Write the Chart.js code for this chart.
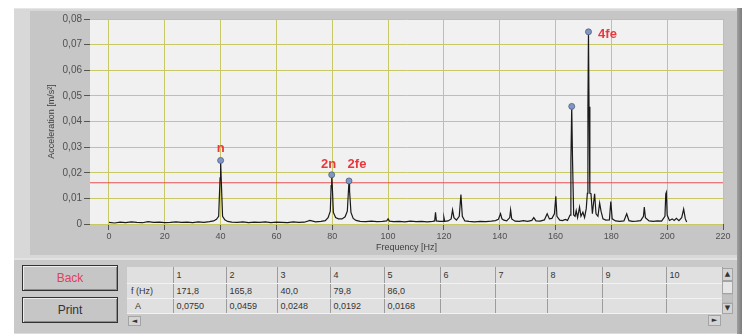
<!DOCTYPE html>
<html><head><meta charset="utf-8">
<script src="https://cdn.jsdelivr.net/npm/chart.js@4.4.1/dist/chart.umd.min.js"></script>
<style>
html,body{margin:0;padding:0;background:#fff;}
body{width:747px;height:336px;position:relative;overflow:hidden;font-family:'Liberation Sans',Arial,sans-serif;}
#gOuter{position:absolute;left:14px;top:8px;width:724px;height:250px;background:#d8d8d8;border-top:1px solid #e6e6e6;box-sizing:border-box;}
#gInner{position:absolute;left:30px;top:11px;width:707px;height:244px;background:#c6c6c6;}
#gEdge{position:absolute;left:737px;top:8px;width:5px;height:326px;background:linear-gradient(to right,#a0a0a0,#7c7c7c);}
#wrap{position:absolute;left:0;top:0;width:747px;height:258px;}
#bOuter{position:absolute;left:14px;top:258px;width:723px;height:76px;background:#c9c9c9;border-top:2px solid #e2e2e2;border-bottom:1px solid #dcdcdc;box-sizing:border-box;}
.btn{position:absolute;left:22px;width:96px;height:26px;box-sizing:border-box;border:1px solid #333;background:#c6c6c6;box-shadow:inset 1px 1px 0 #ececec, inset -1px -1px 0 #8c8c8c;font-size:12px;text-align:center;line-height:24px;color:#333;}
#back{top:265px;color:#e0405e;}
#print{top:297px;}
#tbl{position:absolute;left:127px;top:267px;border-collapse:collapse;table-layout:fixed;font-size:9px;color:#333;}
#tbl td{border-right:1px solid #9c9c9c;border-bottom:1px solid #f2f2f2;background:#e0e0e0;padding:0 0 0 3px;white-space:nowrap;overflow:hidden;box-sizing:border-box;}
#tbl tr.h td{height:16px;}
#tbl tr.r td{height:15px;}
.sb{position:absolute;box-sizing:border-box;background:#d4d4d4;border:1px solid #a4a4a4;font-family:'DejaVu Sans';font-size:7px;color:#333;text-align:center;}
</style></head>
<body>
<div id="gOuter"></div>
<div id="gInner"></div>
<div id="gEdge"></div>
<div id="wrap"><canvas id="c"></canvas></div>
<div id="bOuter"></div>
<div class="btn" id="back">Back</div>
<div class="btn" id="print">Print</div>
<table id="tbl"></table>
<div class="sb" style="left:722px;top:268px;width:11px;height:13px;line-height:11px;">▲</div>
<div class="sb" style="left:722px;top:281px;width:11px;height:13px;background:#e6e6e6;"></div>
<div class="sb" style="left:722px;top:294px;width:11px;height:9px;background:#c2c2c2;border-color:#b8b8b8;"></div>
<div class="sb" style="left:722px;top:303px;width:11px;height:11px;line-height:9px;">▼</div>
<div class="sb" style="left:128px;top:316px;width:13px;height:10px;line-height:8px;">◄</div>
<div class="sb" style="left:708px;top:315px;width:13px;height:11px;line-height:9px;">►</div>
<script>
// ---- data ----
const freq = [0,2,4,6,8,10,12,14,16,18,20,22,24,26,28,30,32,34,36,37.5,38.5,39.3,39.8,40.0,40.2,40.7,41.5,42.5,44,46,48,50,52,54,56,58,60,62,64,66,68,70,72,74,76,77.5,78.5,79.3,79.6,79.8,80.0,80.4,81.2,82.2,83.5,84.6,85.4,85.8,86.0,86.2,86.7,87.5,88.5,90,92,94,96,98,99.5,100,100.5,102,104,106,108,110,112,114,116,116.7,117,117.3,118.5,119.7,120,120.3,121.5,122.6,123.1,123.6,124.5,125.5,126.1,126.6,127.5,129,131,133,135,137,138.5,139.5,140.3,140.8,141.5,142.5,143.6,143.9,144.3,145.5,147,148.5,150,151.5,152.2,153,154.5,156,157,157.8,158.7,159.6,160.1,160.5,161.5,162.5,163.5,164.3,165.2,165.5,165.8,166.1,166.5,167.0,167.4,167.9,168.6,169.1,169.8,170.4,171.0,171.4,171.6,171.8,172.0,172.3,172.7,173.2,174.0,174.5,175.2,175.8,176.3,177.0,178,179.3,179.8,180.3,181.5,183,184.5,185.5,186.3,187.5,189,190.5,191.5,191.8,192.2,193.5,195,196.5,198,199.2,199.5,199.7,200.0,200.8,201.8,202.5,203.3,204.2,205.2,205.9,206.5,207];
const accel = [0.0006,0.0004,0.0007,0.0005,0.0008,0.0006,0.0005,0.0009,0.0006,0.0007,0.0005,0.0006,0.0008,0.0006,0.0007,0.0005,0.0008,0.0006,0.0009,0.0012,0.0018,0.0030,0.0180,0.0248,0.0180,0.0030,0.0016,0.0010,0.0007,0.0006,0.0008,0.0005,0.0007,0.0006,0.0008,0.0005,0.0007,0.0006,0.0005,0.0008,0.0006,0.0007,0.0014,0.0008,0.0010,0.0013,0.0025,0.0050,0.0150,0.0192,0.0150,0.0045,0.0025,0.0020,0.0020,0.0028,0.0050,0.0130,0.0168,0.0130,0.0045,0.0022,0.0014,0.0010,0.0009,0.0011,0.0009,0.0010,0.0012,0.0020,0.0011,0.0009,0.0010,0.0008,0.0011,0.0009,0.0010,0.0008,0.0010,0.0012,0.0046,0.0012,0.0010,0.0010,0.0026,0.0010,0.0012,0.0020,0.0055,0.0025,0.0015,0.0030,0.0115,0.0030,0.0012,0.0010,0.0008,0.0010,0.0009,0.0011,0.0013,0.0018,0.0040,0.0020,0.0015,0.0012,0.0025,0.0055,0.0020,0.0011,0.0010,0.0013,0.0010,0.0014,0.0025,0.0012,0.0011,0.0016,0.0040,0.0020,0.0022,0.0040,0.0108,0.0030,0.0015,0.0013,0.0018,0.0014,0.0035,0.0243,0.0459,0.0243,0.0035,0.0030,0.0052,0.0025,0.0066,0.0030,0.0046,0.0025,0.0060,0.0120,0.0458,0.0750,0.0458,0.0120,0.0118,0.0040,0.0118,0.0040,0.0030,0.0082,0.0050,0.0020,0.0015,0.0016,0.0088,0.0020,0.0012,0.0010,0.0012,0.0040,0.0013,0.0010,0.0011,0.0013,0.0030,0.0066,0.0025,0.0012,0.0010,0.0012,0.0011,0.0030,0.0118,0.0124,0.0035,0.0014,0.0020,0.0014,0.0022,0.0013,0.0025,0.0058,0.0020,0.0008];
const peakFreq = [171.8, 165.8, 40.0, 79.8, 86.0];
const peakAmp = [0.0750, 0.0459, 0.0248, 0.0192, 0.0168];
const peakLabels = ['4fe', '', 'n', '2n', '2fe'];
const threshold = 0.0161;
const xTicks = [0,20,40,60,80,100,120,140,160,180,200,220];
const yTicks = [0,0.01,0.02,0.03,0.04,0.05,0.06,0.07,0.08];
const yTickLabels = ['0','0,01','0,02','0,03','0,04','0,05','0,06','0,07','0,08'];
const colHeaders = ['1','2','3','4','5','6','7','8','9','10'];
const rowLabels = ['f (Hz)','A'];
const xRange = [-6.8, 220];
const yRange = [0, 0.08];

// label offsets (style) relative to the peak marker, in px
const labelOffsets = {'4fe':[19,3],'n':[0,-12],'2n':[-3,-10],'2fe':[8,-17]};

// ---- table ----
(function(){
  const widths=[46,53,51,53,54,56,55,52,55,64,56];
  const t=document.getElementById('tbl');
  let cg='<colgroup>'+widths.map(w=>'<col style="width:'+w+'px">').join('')+'</colgroup>';
  let h='<tr class="h"><td></td>'+colHeaders.map(c=>'<td>'+c+'</td>').join('')+'</tr>';
  const fr=colHeaders.map((c,i)=>i<peakFreq.length?peakFreq[i].toFixed(1).replace('.',','):'');
  const ar=colHeaders.map((c,i)=>i<peakAmp.length?peakAmp[i].toFixed(4).replace('.',','):'');
  let r1='<tr class="r"><td style="padding-left:4px">'+rowLabels[0]+'</td>'+fr.map(v=>'<td>'+v+'</td>').join('')+'</tr>';
  let r2='<tr class="r"><td style="padding-left:8px">'+rowLabels[1]+'</td>'+ar.map(v=>'<td>'+v+'</td>').join('')+'</tr>';
  t.style.width=widths.reduce((a,b)=>a+b,0)+'px';
  t.innerHTML=cg+h+r1+r2;
})();

// ---- chart ----
const FONT="'Liberation Sans', Arial, sans-serif";
const bgPlugin={id:'bg',beforeDraw(chart){const {ctx,chartArea:a}=chart;ctx.save();ctx.fillStyle='#f1f1f1';ctx.fillRect(a.left,a.top,a.right-a.left,a.bottom-a.top);ctx.restore();}};
const lblPlugin={id:'lbl',afterDatasetsDraw(chart){
  const {ctx,scales:{x,y}}=chart;ctx.save();
  ctx.font='bold 13px '+FONT;ctx.fillStyle='#e8383c';ctx.textAlign='center';ctx.textBaseline='middle';
  peakLabels.forEach((l,i)=>{if(!l)return;const o=labelOffsets[l]||[0,-12];
    ctx.fillText(l,x.getPixelForValue(peakFreq[i])+o[0],y.getPixelForValue(peakAmp[i])+o[1]);});
  ctx.restore();}};

new Chart(document.getElementById('c'),{
  type:'line',
  data:{datasets:[
    {data:[{x:xRange[0],y:threshold},{x:xRange[1],y:threshold}],borderColor:'#e85050',borderWidth:1.2,pointRadius:0,order:3},
    {data:freq.map((f,i)=>({x:f,y:accel[i]})),borderColor:'#1a1a1a',borderWidth:1.2,pointRadius:0,tension:0,order:2},
    {type:'scatter',data:peakFreq.map((f,i)=>({x:f,y:peakAmp[i]})),pointRadius:3,backgroundColor:'#8096c4',borderColor:'#50607f',borderWidth:0.8,order:1}
  ]},
  options:{
    responsive:true,maintainAspectRatio:false,animation:false,
    layout:{padding:{left:0,top:19,right:24,bottom:0}},
    plugins:{legend:{display:false},tooltip:{enabled:false}},
    scales:{
      x:{type:'linear',min:xRange[0],max:xRange[1],
        afterBuildTicks:s=>{s.ticks=xTicks.map(v=>({value:v}));},
        afterFit:s=>{s.height=34;},
        border:{display:false},
        grid:{color:'#c8c866',lineWidth:1,tickColor:'#555',tickLength:6,drawTicks:true},
        ticks:{color:'#505050',font:{family:FONT,size:9},padding:1,maxRotation:0,autoSkip:false},
        title:{display:true,text:'Frequency [Hz]',color:'#404040',font:{family:FONT,size:9},padding:{top:0,bottom:4.6}}
      },
      y:{type:'linear',min:yRange[0],max:yRange[1],
        afterBuildTicks:s=>{s.ticks=yTicks.map(v=>({value:v}));},
        afterFit:s=>{s.width=90;},
        border:{display:false},
        grid:{color:'#c8c866',lineWidth:1,tickColor:'#555',tickLength:6,drawTicks:true},
        ticks:{color:'#505050',font:{family:FONT,size:10},padding:2,callback:(v,i)=>yTickLabels[yTicks.indexOf(v)] ?? ''},
        title:{display:true,text:'Acceleration [m/s²]',color:'#404040',font:{family:FONT,size:9},padding:{top:46.6,bottom:0}}
      }
    }
  },
  plugins:[bgPlugin,lblPlugin]
});
</script>
</body></html>
